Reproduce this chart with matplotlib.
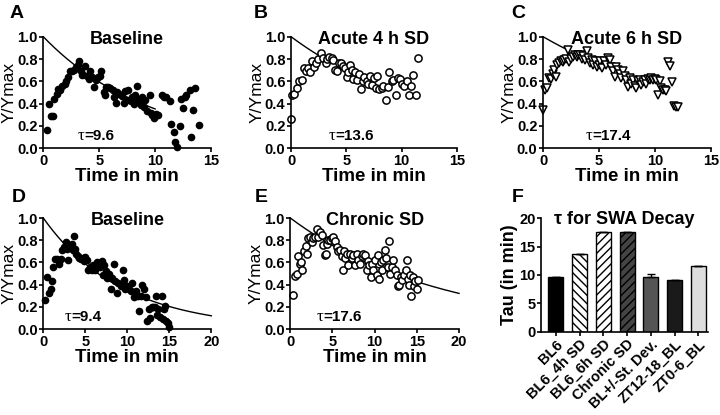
import numpy as np
import matplotlib
matplotlib.use("Agg")
import matplotlib.pyplot as plt

plt.rcParams['font.family'] = ['Liberation Sans', 'DejaVu Sans']
plt.rcParams['hatch.linewidth'] = 1.0

# ---------------- data ----------------
# Panel A: Baseline (filled circles)
a_t = [0.3, 0.5, 0.7, 0.9, 1.0, 1.2, 1.35, 1.5, 1.7, 1.9, 2.0, 2.25, 2.4, 2.6, 2.75, 2.9, 3.1, 3.2,
       3.35, 3.5, 3.7, 3.9, 4.1, 4.2, 4.4, 4.5, 4.7, 4.9, 5.1, 5.2, 5.4, 5.5, 5.6, 5.8, 6.0, 6.2,
       6.35, 6.5, 6.6, 6.8, 7.0, 7.2, 7.3, 7.5, 7.6, 7.8, 7.9, 8.1, 8.2, 8.4, 8.5, 8.7, 8.8, 9.0,
       9.1, 9.25, 9.5, 9.6, 9.75, 9.9, 10.1, 10.3, 10.6, 10.8, 11.0, 11.3, 11.4, 11.65, 11.8, 11.95,
       12.2, 12.3, 12.5, 12.7, 12.8, 13.1, 13.2, 13.4, 13.6, 13.9]
a_y = [0.16, 0.40, 0.29, 0.29, 0.44, 0.49, 0.53, 0.52, 0.56, 0.58, 0.60, 0.64, 0.69, 0.69, 0.70, 0.73, 0.75, 0.78,
       0.69, 0.66, 0.74, 0.65, 0.62, 0.69, 0.64, 0.55, 0.61, 0.64, 0.65, 0.69, 0.50, 0.48, 0.55, 0.55, 0.54, 0.52,
       0.46, 0.41, 0.50, 0.49, 0.47, 0.41, 0.51, 0.43, 0.52, 0.42, 0.46, 0.40, 0.48, 0.56, 0.43, 0.39, 0.46, 0.37,
       0.43, 0.33, 0.48, 0.32, 0.30, 0.27, 0.31, 0.30, 0.48, 0.46, 0.46, 0.42, 0.22, 0.15, 0.06, 0.015,
       0.20, 0.44, 0.36, 0.46, 0.48, 0.52, 0.10, 0.34, 0.54, 0.21]
a_tau = 9.6
a_fit_end = 10.0

# Panel B: Acute 4 h SD (open circles)
b_t = [0.0, 0.06, 0.27, 0.5, 0.75, 0.96, 1.17, 1.36, 1.57, 1.7, 1.87, 2.08, 2.26, 2.47, 2.7, 2.92, 3.13,
       3.28, 3.46, 3.67, 3.8, 3.98, 4.19, 4.34, 4.5, 4.73, 4.88, 5.03, 5.18, 5.33, 5.48, 5.63, 5.78, 6.0,
       6.17, 6.33, 6.48, 6.63, 6.84, 6.99, 7.14, 7.35, 7.5, 7.68, 7.8, 7.98, 8.19, 8.34, 8.55, 8.73, 8.89,
       9.1, 9.25, 9.5, 9.64, 9.85, 10.06, 10.24, 10.45, 10.66, 10.84, 11.05, 11.3, 11.5]
b_y = [0.26, 0.48, 0.49, 0.54, 0.60, 0.61, 0.72, 0.69, 0.72, 0.68, 0.78, 0.73, 0.76, 0.80, 0.85, 0.81, 0.76,
       0.80, 0.82, 0.81, 0.79, 0.70, 0.69, 0.76, 0.76, 0.74, 0.72, 0.64, 0.68, 0.75, 0.70, 0.62, 0.68, 0.61,
       0.67, 0.53, 0.60, 0.64, 0.60, 0.58, 0.65, 0.57, 0.63, 0.54, 0.65, 0.53, 0.54, 0.56, 0.43, 0.55, 0.68,
       0.60, 0.61, 0.48, 0.63, 0.62, 0.58, 0.56, 0.60, 0.48, 0.56, 0.66, 0.48, 0.81]
b_tau = 13.6
b_fit_end = 3.0

# Panel C: Acute 6 h SD (open triangles)
c_t = [0.03, 0.18, 0.33, 0.54, 0.7, 0.87, 1.0, 1.16, 1.28, 1.46, 1.6, 1.76, 1.9, 2.06, 2.2, 2.36, 2.5,
       2.72, 2.87, 3.0, 3.16, 3.3, 3.46, 3.6, 3.76, 3.9, 4.06, 4.2, 4.36, 4.5, 4.66, 4.8, 4.96, 5.1, 5.25,
       5.46, 5.64, 5.8, 5.94, 6.1, 6.24, 6.4, 6.54, 6.7, 6.84, 7.0, 7.13, 7.28, 7.43, 7.58, 7.73, 7.88,
       8.0, 8.18, 8.33, 8.48, 8.63, 8.78, 8.93, 9.07, 9.22, 9.37, 9.52, 9.67, 9.82, 9.97, 10.12, 10.27,
       10.42, 10.57, 10.72, 10.87, 11.0, 11.2, 11.37, 11.5, 11.7, 11.88, 12.03]
c_y = [0.34, 0.52, 0.54, 0.63, 0.62, 0.67, 0.70, 0.64, 0.75, 0.76, 0.78, 0.77, 0.79, 0.80, 0.88, 0.77, 0.80,
       0.82, 0.84, 0.82, 0.84, 0.84, 0.80, 0.83, 0.79, 0.87, 0.81, 0.76, 0.79, 0.75, 0.78, 0.73, 0.75, 0.78, 0.72,
       0.78, 0.75, 0.81, 0.79, 0.73, 0.69, 0.64, 0.73, 0.70, 0.67, 0.63, 0.69, 0.65, 0.61, 0.55, 0.63, 0.58,
       0.61, 0.56, 0.54, 0.60, 0.61, 0.57, 0.59, 0.61, 0.58, 0.62, 0.61, 0.63, 0.61, 0.62, 0.61, 0.48,
       0.60, 0.54, 0.52, 0.52, 0.51, 0.77, 0.74, 0.59, 0.38, 0.37, 0.37]
c_tau = 17.4
c_fit_end = 2.3

# Panel D: Baseline (filled circles, 0-20 min)
d_t = [0.2, 0.48, 0.7, 0.87, 1.0, 1.2, 1.4, 1.67, 1.9, 2.1, 2.26, 2.46, 2.66, 2.78, 2.98, 3.17, 3.37, 3.5,
       3.65, 3.77, 3.9, 4.1, 4.29, 4.48, 4.68, 4.84, 4.96, 5.16, 5.36, 5.56, 5.75, 5.95, 6.15, 6.35, 6.55,
       6.75, 6.94, 7.14, 7.22, 7.46, 7.62, 7.8, 8.0, 8.2, 8.4, 8.53, 8.8, 8.93, 9.2, 9.44, 9.6, 9.76, 10.0,
       10.2, 10.4, 10.6, 10.8, 11.03, 11.23, 11.43, 11.6, 11.8, 12.0, 12.2, 12.38, 12.54, 12.7, 12.9, 13.1,
       13.3, 13.4, 13.57, 13.7, 13.9, 14.1, 14.2, 14.37, 14.5, 14.6, 14.8, 15.0]
d_y = [0.26, 0.47, 0.32, 0.36, 0.43, 0.56, 0.63, 0.63, 0.59, 0.63, 0.71, 0.74, 0.78, 0.72, 0.62, 0.74, 0.77, 0.71,
       0.84, 0.72, 0.68, 0.66, 0.64, 0.63, 0.64, 0.61, 0.65, 0.62, 0.53, 0.56, 0.53, 0.58, 0.53, 0.60, 0.58,
       0.56, 0.61, 0.49, 0.58, 0.52, 0.46, 0.50, 0.36, 0.46, 0.59, 0.43, 0.32, 0.41, 0.39, 0.53, 0.44, 0.36, 0.39,
       0.36, 0.34, 0.41, 0.29, 0.34, 0.30, 0.16, 0.30, 0.40, 0.36, 0.29, 0.07, 0.18, 0.10, 0.20, 0.20,
       0.20, 0.30, 0.13, 0.18, 0.11, 0.30, 0.09, 0.18, 0.21, 0.07, 0.05, 0.015]
d_tau = 9.4
d_fit_end = 20.0

# Panel E: Chronic SD (open circles, 0-20 min)
e_t = [0.36, 0.55, 0.75, 0.95, 1.15, 1.26, 1.42, 1.62, 1.82, 1.94, 2.13, 2.33, 2.53, 2.73, 2.92, 3.12, 3.32,
       3.52, 3.72, 3.91, 4.1, 4.23, 4.39, 4.5, 4.7, 4.9, 5.1, 5.3, 5.5, 5.7, 5.9, 6.1, 6.2, 6.36, 6.52, 6.68,
       6.88, 7.07, 7.27, 7.47, 7.67, 7.87, 8.06, 8.26, 8.46, 8.66, 8.85, 9.05, 9.17, 9.37, 9.53, 9.68, 9.84,
       10.04, 10.24, 10.36, 10.55, 10.7, 10.83, 11.03, 11.2, 11.34, 11.54, 11.7, 11.8, 12.0, 12.2, 12.4, 12.6,
       12.73, 12.9, 13.1, 13.3, 13.5, 13.7, 13.8, 13.9, 14.07, 14.2, 14.35, 14.5, 14.67, 14.8, 15.0, 15.1]
e_y = [0.31, 0.48, 0.50, 0.66, 0.59, 0.60, 0.53, 0.70, 0.75, 0.68, 0.82, 0.83, 0.78, 0.82, 0.83, 0.90, 0.83,
       0.87, 0.85, 0.76, 0.67, 0.68, 0.77, 0.80, 0.80, 0.82, 0.83, 0.79, 0.74, 0.70, 0.71, 0.66, 0.53, 0.70, 0.64, 0.68,
       0.58, 0.68, 0.64, 0.67, 0.58, 0.68, 0.62, 0.59, 0.66, 0.68, 0.67, 0.53, 0.61, 0.58, 0.47, 0.59, 0.53,
       0.62, 0.49, 0.67, 0.45, 0.60, 0.53, 0.62, 0.71, 0.64, 0.56, 0.79, 0.50, 0.56, 0.62, 0.53, 0.49,
       0.39, 0.40, 0.47, 0.44, 0.49, 0.53, 0.62, 0.45, 0.40, 0.49, 0.30, 0.47, 0.39, 0.43, 0.36, 0.44]
e_tau = 17.6
e_fit_end = 20.0

# Panel F: tau bar chart
f_labels = ['BL6', 'BL6_4h SD', 'BL6_6h SD', 'Chronic SD', 'BL+/-St. Dev.', 'ZT12-18_BL', 'ZT0-6_BL']
f_values = [9.7, 13.7, 17.5, 17.6, 9.7, 9.1, 11.6]
f_err = [0, 0, 0, 0, 0.5, 0, 0]

# ---------------- figure ----------------
W, H = 720, 415
fig = plt.figure(figsize=(7.2, 4.15), dpi=100)

def axrect(l, t, r, b):
    return [l / W, 1 - b / H, (r - l) / W, (b - t) / H]

TICK_FS = 10.5
LAB_FS = 13.5

def style_axes(ax):
    for s in ['top', 'right']:
        ax.spines[s].set_visible(False)
    for s in ['left', 'bottom']:
        ax.spines[s].set_linewidth(1.2)
    ax.tick_params(direction='out', length=3, width=1.2, labelsize=TICK_FS, pad=1)
    for lab in ax.get_xticklabels() + ax.get_yticklabels():
        lab.set_fontweight('bold')

def tau_text(ax, xfrac, yfrac, tau):
    # serif tau followed by bold sans value, centred together
    ax.annotate('\u03c4', xy=(xfrac, yfrac), xycoords='axes fraction', xytext=(-14, 0),
                textcoords='offset points', ha='right', va='center', fontsize=12,
                family=['Liberation Serif', 'DejaVu Serif'])
    ax.annotate(f'={tau:.1f}', xy=(xfrac, yfrac), xycoords='axes fraction', xytext=(-14, 0),
                textcoords='offset points', ha='left', va='center', fontsize=11,
                fontweight='bold')

def decay_panel(rect, t, y, tau, fit_end, xmax, title, marker, filled, ms, tx):
    ax = fig.add_axes(axrect(*rect))
    tt = np.linspace(0, fit_end, 200)
    ax.plot(tt, np.exp(-tt / tau), color='black', lw=1.0, zorder=1, clip_on=False)
    if filled:
        ax.plot(t, y, linestyle='none', marker=marker, ms=ms, mfc='black', mec='black',
                zorder=2, clip_on=False)
    else:
        ax.plot(t, y, linestyle='none', marker=marker, ms=ms, mfc='white', mec='black',
                mew=1.1, zorder=2, clip_on=False)
    ax.set_xlim(0, xmax)
    ax.set_ylim(0, 1.0)
    ax.set_xticks(np.arange(0, xmax + 1, 5))
    ax.set_yticks(np.arange(0, 1.01, 0.2))
    ax.yaxis.set_major_formatter(matplotlib.ticker.FormatStrFormatter('%.1f'))
    ax.set_xlabel('Time in min', fontsize=LAB_FS, fontweight='bold', labelpad=0)
    ax.set_ylabel('Y/Ymax', fontsize=12.5)
    w = rect[2] - rect[0]
    ax.yaxis.set_label_coords((rect[0] - 26.5 - rect[0] + (43.3 - 43.3)) / w, 0.5)
    ax.text(0.5, 0.975, title, transform=ax.transAxes, ha='center', va='center',
            fontsize=13, fontweight='bold')
    tau_text(ax, tx, 0.11, tau)
    style_axes(ax)
    return ax

decay_panel((43.3, 36.7, 211, 148.3), a_t, a_y, a_tau, a_fit_end, 15, 'Baseline', 'o', True, 4.5, 0.36)
decay_panel((291, 36.7, 457, 148.3), b_t, b_y, b_tau, b_fit_end, 15, 'Acute 4 h SD', 'o', False, 5.2, 0.385)
decay_panel((543, 36.7, 711, 148.3), c_t, c_y, c_tau, c_fit_end, 15, 'Acute 6 h SD', 'v', False, 5.5, 0.41)
decay_panel((43.3, 218, 211.3, 329), d_t, d_y, d_tau, d_fit_end, 20, 'Baseline', 'o', True, 4.5, 0.285)
decay_panel((290.3, 218, 459, 329), e_t, e_y, e_tau, e_fit_end, 20, 'Chronic SD', 'o', False, 5.2, 0.31)

# Panel F
axf = fig.add_axes(axrect(541, 218.3, 708, 331.7))
x = np.arange(len(f_labels))
faces = ['black', 'white', 'white', '#444444', '#555555', '#1a1a1a', '#dddddd']
hatches = [None, '\\\\\\\\', '////', '////', None, None, None]
for i in range(len(f_labels)):
    axf.bar(x[i], f_values[i], width=0.63, color=faces[i], edgecolor='black', linewidth=1.0,
            hatch=hatches[i], zorder=2)
err_lo = [0 for _ in f_err]
axf.errorbar(x, f_values, yerr=[err_lo, f_err], fmt='none', ecolor='black', elinewidth=1.0,
             capsize=3, capthick=1.0, zorder=3)
axf.set_xlim(-0.63, 6.41)
axf.set_ylim(0, 20)
axf.set_yticks([0, 5, 10, 15, 20])
axf.set_xticks(x)
axf.set_xticklabels(f_labels, rotation=45, ha='right', rotation_mode='anchor')
axf.set_ylabel('Tau (in min)', fontsize=13, fontweight='bold')
axf.yaxis.set_label_coords((518 - 541) / 167.0, 0.5)
axf.text(0.5, 0.99, '\u03c4 for SWA Decay', transform=axf.transAxes, ha='center', va='center',
         fontsize=13, fontweight='bold')
style_axes(axf)

# panel letters
for letter, px, py in [('A', 17, 13), ('B', 261, 13), ('C', 518, 13),
                       ('D', 19, 197), ('E', 261, 197), ('F', 518, 197)]:
    fig.text(px / W, 1 - py / H, letter, ha='center', va='center', fontsize=14, fontweight='bold')

fig.savefig('out.png', dpi=100)
